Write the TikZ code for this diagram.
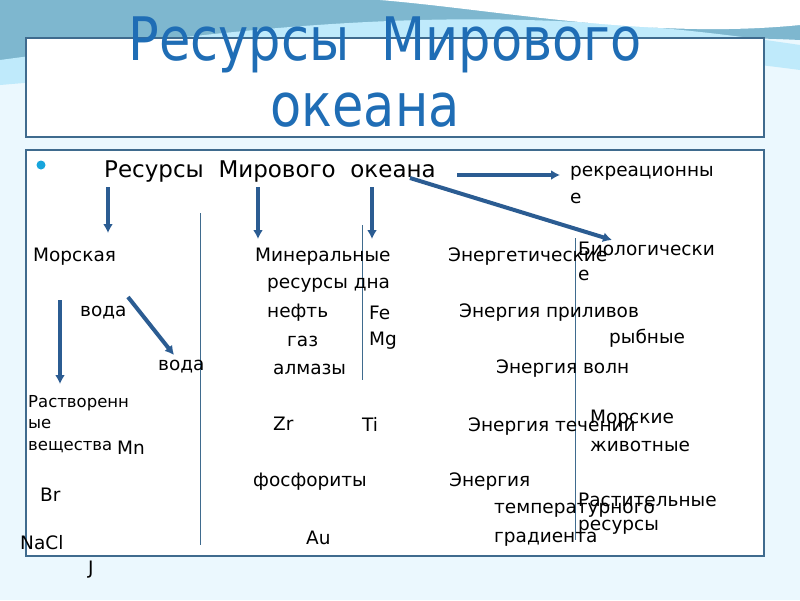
\documentclass[tikz,border=0pt]{standalone}
\usepackage{fontspec}
\setmainfont{DejaVu Sans}
\newfontfamily\titlefont[FakeStretch=0.85]{DejaVu Sans}
\usetikzlibrary{arrows.meta,positioning}
\definecolor{boxline}{HTML}{3F6B8E}
\definecolor{titleblue}{HTML}{1F6DB5}
\definecolor{arrowblue}{HTML}{2B5C92}
\tikzset{
  item/.style={anchor=west,inner sep=0pt,font=\fontsize{18.5}{21}\selectfont},
  head/.style={anchor=west,inner sep=0pt,font=\fontsize{23}{26}\selectfont},
  fatarrow/.style={draw=arrowblue,line width=4pt,-{Latex[length=9pt,width=10pt]}},
  divider/.style={draw=boxline,line width=0.9pt}
}
\begin{document}
\begin{tikzpicture}[x=1pt,y=-1pt]
	\useasboundingbox (0,0) rectangle (800,600);
	% background and swooshes
	\fill[white!92!cyan] (0,0) rectangle (800,600);
	\fill[cyan!35!teal!60] (0,0) -- (800,0) -- (800,40) .. controls (600,30) and (400,60) .. (0,60) -- cycle;
	\fill[cyan!25] (0,60) .. controls (300,20) and (500,0) .. (800,45) -- (800,70) .. controls (500,30) and (300,60) .. (0,85) -- cycle;
	\fill[white] (380,0) .. controls (500,10) and (650,40) .. (800,25) -- (800,0) -- cycle;
	% title box
	\draw[boxline,line width=1.5pt,fill=white] (26,38) rectangle (764,137);
	\node[inner sep=0pt,text=titleblue,font=\titlefont\fontsize{60}{66}\selectfont] (title1) at (385,45) {Ресурсы\ \ Мирового};
	\node[inner sep=0pt,text=titleblue,font=\titlefont\fontsize{60}{66}\selectfont] (title2) at (365,110) {океана};
	% main box
	\draw[boxline,line width=1.5pt,fill=white] (26,150) rectangle (764,556);
	\fill[cyan!80!teal] (41,165) circle (4.5);
	\node[head] (main) at (104,172) {Ресурсы\ \ Мирового\ \ океана};
	% dividers
	\draw[divider] (200,213) -- (200,545);
	\draw[divider] (362,225) -- (362,380);
	\draw[divider] (575,238) -- (575,540);
	% column texts
	\node[item] (rekr) at (570,173) {рекреационны};
	\node[item] (rekr2) at (570,198) {е};
	\node[item] (sea) at (33,257) {Морская};
	\node[item] (miner) at (255,257) {Минеральные};
	\node[item] (energy) at (448,257) {Энергетические};
	\node[item] (bio) at (578,249) {Биологически};
	\node[item] (bio2) at (578,275) {е};
	\node[item] (dna) at (267,285) {ресурсы дна};
	\node[item] (voda1) at (80,313) {вода};
	\node[item] (oil) at (267,313) {нефть};
	\node[item] (fe) at (369,313) {Fe};
	\node[item] (tide) at (459,313) {Энергия приливов};
	\node[item] (fish) at (609,338) {рыбные};
	\node[item] (gas) at (287,341) {газ};
	\node[item] (mg) at (369,341) {Mg};
	\node[item] (voda2) at (158,367) {вода};
	\node[item] (diam) at (273,369) {алмазы};
	\node[item] (wave) at (496,369) {Энергия волн};
	\node[item,font=\fontsize{16.5}{18}\selectfont] (rast1) at (28,403) {Растворенн};
	\node[item,font=\fontsize{16.5}{18}\selectfont] (rast2) at (28,424) {ые};
	\node[item,font=\fontsize{16.5}{18}\selectfont] (rast3) at (28,447) {вещества};
	\node[item] (mn) at (117,448) {Mn};
	\node[item] (zr) at (273,424) {Zr};
	\node[item] (ti) at (362,424) {Ti};
	\node[item] (flow) at (468,426) {Энергия течений};
	\node[item] (anim1) at (590,419) {Морские};
	\node[item] (anim2) at (590,446) {животные};
	\node[item] (br) at (40,495) {Br};
	\node[item] (phos) at (253,482) {фосфориты};
	\node[item] (grad1) at (449,482) {Энергия};
	\node[item] (plant1) at (578,500) {Растительные};
	\node[item] (grad2) at (494,510) {температурного};
	\node[item] (plant2) at (578,527) {ресурсы};
	\node[item] (nacl) at (20,543) {NaCl};
	\node[item] (au) at (306,538) {Au};
	\node[item] (grad3) at (494,539) {градиента};
	\node[item] (iod) at (88,570) {J};
	% arrows
	\coordinate (sA) at (108,187);
	\coordinate (sB) at (258,187);
	\coordinate (sC) at (372,187);
	\coordinate (sE) at (457,175);
	\coordinate (sF) at (410,178);
	\coordinate (sG) at (60,300);
	\coordinate (sH) at (128,297);
	\draw[fatarrow] (sA) -- (108,233);
	\draw[fatarrow] (sB) -- (258,239);
	\draw[fatarrow] (sC) -- (372,239);
	\draw[fatarrow] (sE) -- (560,175);
	\draw[fatarrow] (sF) -- (612,240);
	\draw[fatarrow] (sG) -- (60,384);
	\draw[fatarrow] (sH) -- (174,355);
\end{tikzpicture}
\end{document}
